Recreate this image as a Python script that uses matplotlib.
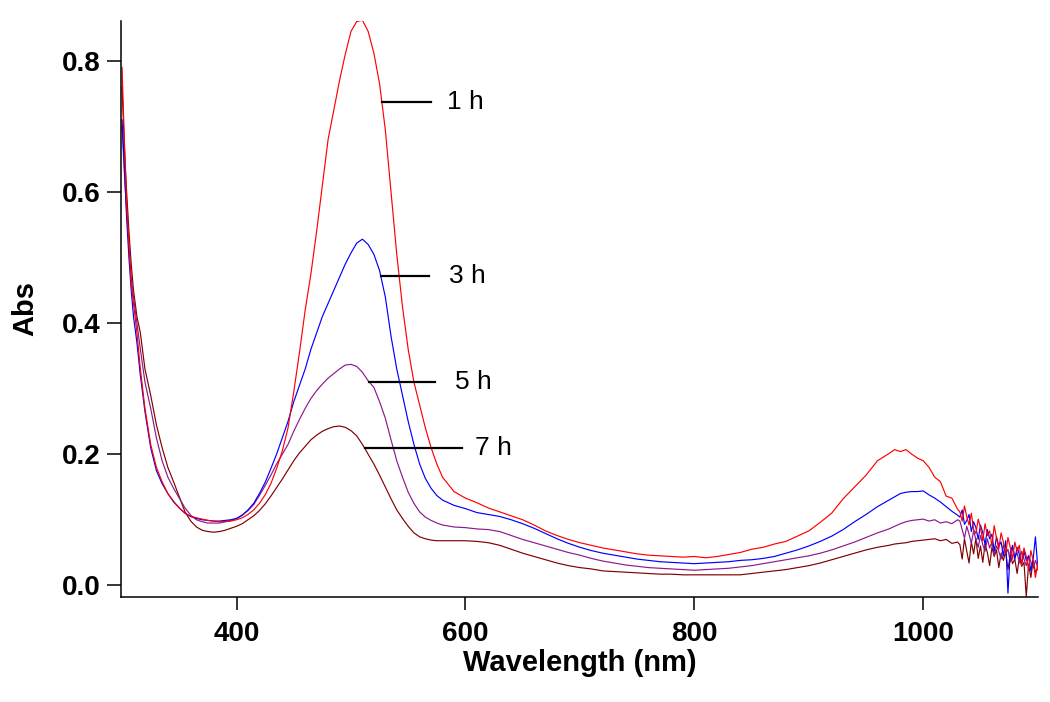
import numpy as np
import matplotlib
matplotlib.use("Agg")
import matplotlib.pyplot as plt

# wavelength grid (nm)
wavelength = (
    [300, 302, 304, 306, 308, 310, 313, 316, 320]
    + list(range(325, 585, 5))
    + list(range(590, 970, 10))
    + list(range(970, 1031, 5))
    + list(range(1032, 1101, 2))
)

abs_1h = [
    0.79, 0.68, 0.58, 0.52, 0.46, 0.43, 0.385, 0.33, 0.27,
    0.215, 0.18, 0.158, 0.14, 0.127, 0.118, 0.11, 0.105, 0.103, 0.101,
    0.099, 0.098, 0.097, 0.097, 0.098, 0.1, 0.103, 0.108, 0.115, 0.125,
    0.138, 0.155, 0.178, 0.205, 0.24, 0.295, 0.355, 0.42, 0.475, 0.54,
    0.61, 0.68, 0.725, 0.77, 0.81, 0.845, 0.86, 0.862, 0.845, 0.812,
    0.765, 0.695, 0.6, 0.505, 0.425, 0.36, 0.31, 0.275, 0.24, 0.21,
    0.185, 0.165,
    0.143, 0.133, 0.126, 0.118, 0.112, 0.106, 0.1, 0.092, 0.083, 0.076,
    0.07, 0.065, 0.061, 0.057, 0.054, 0.051, 0.048, 0.046, 0.045, 0.044,
    0.043, 0.044, 0.042, 0.044, 0.047, 0.05, 0.055, 0.058, 0.063, 0.067,
    0.075, 0.083, 0.096, 0.11, 0.132, 0.15, 0.168, 0.19,
    0.201, 0.207, 0.204, 0.207, 0.2, 0.194, 0.19, 0.18, 0.165, 0.158,
    0.136, 0.133, 0.116,
    0.112, 0.098, 0.121, 0.105, 0.092, 0.110, 0.085, 0.079, 0.101, 0.088,
    0.068, 0.094, 0.076, 0.083, 0.060, 0.091, 0.072, 0.055, 0.080, 0.066,
    0.048, 0.073, 0.058, 0.040, 0.066, 0.052, 0.061, 0.030, 0.057, 0.044,
    0.025, 0.053, 0.038, 0.012, 0.034,
]

abs_3h = [
    0.71, 0.64, 0.56, 0.5, 0.45, 0.41, 0.37, 0.32, 0.265,
    0.21, 0.175, 0.155, 0.14, 0.128, 0.118, 0.11, 0.105, 0.102, 0.1,
    0.099, 0.098, 0.098, 0.099, 0.1, 0.102, 0.107, 0.115, 0.125, 0.14,
    0.157, 0.178, 0.2, 0.225, 0.25, 0.28, 0.305, 0.33, 0.36, 0.385,
    0.41, 0.43, 0.45, 0.47, 0.49, 0.507, 0.522, 0.528, 0.52, 0.505,
    0.48, 0.44, 0.38, 0.33, 0.29, 0.25, 0.215, 0.185, 0.163, 0.148,
    0.137, 0.13,
    0.122, 0.117, 0.111, 0.108, 0.105, 0.1, 0.094, 0.087, 0.079, 0.071,
    0.064, 0.058, 0.053, 0.049, 0.046, 0.043, 0.04, 0.038, 0.036, 0.035,
    0.034, 0.033, 0.034, 0.035, 0.036, 0.038, 0.039, 0.041, 0.044, 0.049,
    0.054, 0.06, 0.067, 0.075, 0.085, 0.097, 0.108, 0.12,
    0.13, 0.135, 0.14, 0.142, 0.143, 0.143, 0.144, 0.138, 0.133, 0.127,
    0.12, 0.113, 0.107,
    0.104, 0.115, 0.093, 0.099, 0.108, 0.082, 0.097, 0.088, 0.070, 0.092,
    0.080, 0.062, 0.085, 0.071, 0.078, 0.052, 0.074, 0.060, 0.066, 0.045,
    0.068, -0.012, 0.050, 0.061, 0.040, 0.058, 0.047, 0.033, 0.052, 0.038,
    0.045, 0.022, 0.040, 0.074, 0.028,
]

abs_5h = [
    0.7, 0.63, 0.57, 0.52, 0.47, 0.44, 0.4, 0.36, 0.31,
    0.27, 0.225, 0.19, 0.165, 0.148, 0.133, 0.118, 0.107, 0.1, 0.097,
    0.095, 0.095, 0.095, 0.097, 0.099, 0.102, 0.107, 0.114, 0.123, 0.137,
    0.152, 0.168, 0.185, 0.2, 0.215, 0.235, 0.253, 0.27, 0.285, 0.297,
    0.307, 0.316, 0.323, 0.33, 0.336, 0.337, 0.334, 0.325, 0.312, 0.302,
    0.28, 0.255, 0.222, 0.19, 0.165, 0.142, 0.125, 0.112, 0.104, 0.099,
    0.095, 0.092,
    0.089, 0.088, 0.086, 0.085, 0.082, 0.076, 0.07, 0.065, 0.06, 0.055,
    0.05, 0.046, 0.041, 0.037, 0.034, 0.031, 0.029, 0.027, 0.026, 0.025,
    0.024, 0.023, 0.024, 0.025, 0.026, 0.028, 0.03, 0.033, 0.036, 0.039,
    0.042, 0.045, 0.049, 0.054, 0.06, 0.066, 0.073, 0.08,
    0.086, 0.09, 0.094, 0.097, 0.099, 0.1, 0.101, 0.098, 0.1, 0.095,
    0.097, 0.094, 0.1,
    0.098, 0.085, 0.072, 0.090, 0.078, 0.064, 0.083, 0.070, 0.058, 0.076,
    0.062, 0.052, 0.071, 0.057, 0.066, 0.046, 0.060, 0.052, 0.040, 0.062,
    0.048, 0.055, 0.036, 0.058, 0.042, 0.050, 0.034, 0.052, 0.040, 0.030,
    0.045, 0.036, 0.026, 0.038, 0.028,
]

abs_7h = [
    0.76, 0.67, 0.6, 0.54, 0.49, 0.45, 0.41, 0.385, 0.33,
    0.29, 0.245, 0.21, 0.18, 0.158, 0.135, 0.112, 0.098, 0.089, 0.084,
    0.082, 0.081, 0.082, 0.084, 0.087, 0.09, 0.094, 0.1, 0.106, 0.114,
    0.124, 0.136, 0.149, 0.162, 0.176, 0.19, 0.202, 0.212, 0.222, 0.229,
    0.235, 0.239, 0.242, 0.243, 0.241, 0.236, 0.228, 0.215, 0.2, 0.185,
    0.168, 0.15, 0.132, 0.115, 0.102, 0.09, 0.08, 0.074, 0.071, 0.069,
    0.068, 0.068,
    0.068, 0.068, 0.067, 0.065, 0.061, 0.055, 0.049, 0.044, 0.039, 0.034,
    0.03, 0.027, 0.025, 0.022, 0.021, 0.02, 0.019, 0.018, 0.017, 0.017,
    0.016, 0.016, 0.016, 0.016, 0.016, 0.016, 0.018, 0.02, 0.022, 0.024,
    0.027, 0.03, 0.034, 0.039, 0.044, 0.049, 0.054, 0.058,
    0.061, 0.063, 0.064, 0.065, 0.067, 0.068, 0.069, 0.07, 0.071, 0.068,
    0.07, 0.064, 0.066,
    0.062, 0.040, 0.071, 0.052, 0.034, 0.066, 0.048, 0.072, 0.041, 0.060,
    0.035, 0.063, 0.050, 0.030, 0.058, 0.044, 0.054, 0.027, 0.049, 0.038,
    0.052, 0.024, 0.046, 0.033, 0.040, 0.018, 0.043, 0.029, 0.035, -0.017,
    0.032, 0.012, 0.038, 0.020, 0.025,
]

series_labels = ["1 h", "3 h", "5 h", "7 h"]
series_colors = ["#ff0000", "#0000ff", "#8b1a8b", "#800000"]
# where each label's leader line leaves its curve, where it ends, and text x
leader_start = [527, 526, 516, 512]
leader_end = [570, 568, 573, 597]
label_x = [584, 586, 591, 608]

plt.rcParams["font.family"] = ["Liberation Sans", "DejaVu Sans"]

fig = plt.figure(figsize=(10.5, 7.02), dpi=100)
ax = fig.add_axes([0.1157, 0.1496, 0.8726, 0.8209])

wl = np.array(wavelength, dtype=float)
all_series = [abs_1h, abs_3h, abs_5h, abs_7h]
for vals, color in reversed(list(zip(all_series, series_colors))):
    ax.plot(wl, vals, color=color, lw=0.85)

for vals, lab, x0, x1, xt in zip(all_series, series_labels, leader_start, leader_end, label_x):
    y0 = np.interp(x0, wl, vals)
    ax.plot([x0, x1], [y0, y0], color="black", lw=1.6)
    ax.text(xt, y0, lab, fontsize=19, va="center", ha="left")

ax.set_xlim(299.5, 1100)
ax.set_ylim(-0.0178, 0.8613)
ax.set_xticks([400, 600, 800, 1000])
ax.set_yticks([0.0, 0.2, 0.4, 0.6, 0.8])
ax.set_yticklabels(["0.0", "0.2", "0.4", "0.6", "0.8"])

for side in ["top", "right"]:
    ax.spines[side].set_visible(False)
for side in ["left", "bottom"]:
    ax.spines[side].set_linewidth(1.1)

ax.tick_params(axis="both", direction="out", width=1.1, labelsize=20)
ax.tick_params(axis="y", length=10, pad=5)
ax.tick_params(axis="x", length=9, pad=8)
for t in ax.get_xticklabels() + ax.get_yticklabels():
    t.set_fontweight("bold")

ax.set_xlabel("Wavelength (nm)", fontsize=21, fontweight="bold", labelpad=2)
ax.set_ylabel("Abs", fontsize=21, fontweight="bold", labelpad=16)

fig.savefig("out.png", dpi=100)
